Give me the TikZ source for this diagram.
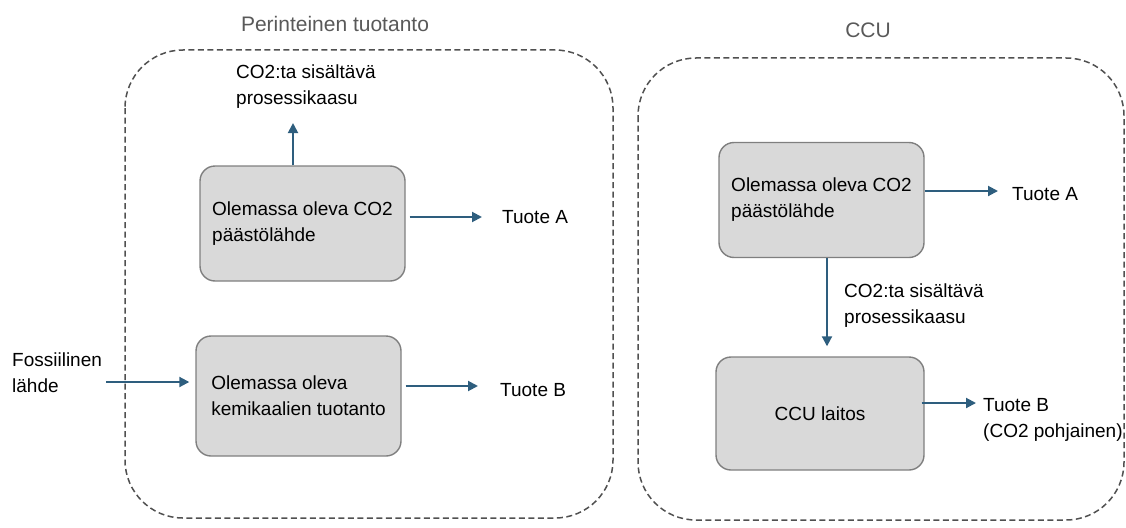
\documentclass[tikz,border=0pt]{standalone}
\usepackage{fontspec}
\setmainfont{Liberation Sans}
\usetikzlibrary{arrows.meta}

\definecolor{flowblue}{HTML}{2E5E7E}
\definecolor{boxfill}{HTML}{D9D9D9}
\definecolor{boxline}{HTML}{7F7F7F}
\definecolor{framegray}{HTML}{595959}

\tikzset{
    txt/.style={inner sep=0pt, align=left, font=\fontsize{19}{26}\selectfont},
    title/.style={inner sep=0pt, text=framegray, font=\fontsize{21}{26}\selectfont},
    unitbox/.style={txt, draw=boxline, fill=boxfill, line width=1.4pt,
        rounded corners=15pt, minimum width=205pt, minimum height=115pt},
    frame/.style={draw=framegray!90!black, line width=1.5pt, dash pattern=on 6pt off 3.5pt,
        rounded corners=58pt},
    flow/.style={draw=flowblue, line width=2pt,
        -{Triangle[length=10pt,width=10pt]}}
}

\begin{document}
\begin{tikzpicture}[x=1pt,y=-1pt]
        \useasboundingbox (0,0) rectangle (1126,527);

        % ~~~~ Perinteinen tuotanto ~~~~ %
        \draw[frame] (125,50) rectangle (613,518);
        \node[title] (titleL) at (335,24) {Perinteinen tuotanto};

        \node[unitbox] (srcL) at (302.5,223.5) {Olemassa oleva CO2\\päästölähde};
        \node[unitbox, minimum height=120pt] (chemL) at (298.5,396) {Olemassa oleva\\kemikaalien tuotanto};

        \node[txt, anchor=west] (gasL) at (236,87) {CO2:ta sisältävä\\prosessikaasu};
        \node[txt, anchor=west] (tuoteAL) at (502,217) {Tuote A};
        \node[txt, anchor=west] (tuoteBL) at (500,390) {Tuote B};
        \node[txt, anchor=west] (fossil) at (12,373) {Fossiilinen\\lähde};

        \draw[flow] ([xshift=-9.5pt]srcL.north) -- ([xshift=-9.5pt,yshift=-14pt]srcL.north |- gasL.south);
        \draw[flow] ([xshift=4pt]srcL.east |- tuoteAL.west) -- ([xshift=-20pt]tuoteAL.west);
        \draw[flow] ([xshift=4pt,yshift=-9pt]fossil.east) -- ([xshift=-6pt,yshift=-9pt]chemL.west |- fossil.east);
        \draw[flow] ([xshift=4pt,yshift=4pt]chemL.east |- tuoteBL.west) -- ([xshift=-22pt,yshift=4pt]tuoteBL.west);

        % ~~~~ CCU ~~~~ %
        \draw[frame] (638,58) rectangle (1124,520);
        \node[title] (titleR) at (868,30) {CCU};

        \node[unitbox] (srcR) at (821.5,200) {Olemassa oleva CO2\\päästölähde};
        \node[unitbox, minimum width=208pt, minimum height=113pt] (ccu) at (820,413.5) {CCU laitos};

        \node[txt, anchor=west] (gasR) at (844,306) {CO2:ta sisältävä\\prosessikaasu};
        \node[txt, anchor=west] (tuoteAR) at (1012,194) {Tuote A};
        \node[txt, anchor=west] (tuoteBR) at (983,420) {Tuote B\\(CO2 pohjainen)};

        \draw[flow] ([yshift=3pt]srcR.east |- tuoteAR.west) -- ([xshift=-14pt,yshift=3pt]tuoteAR.west);
        \draw[flow] (srcR.south -| 827,0) -- ([yshift=10pt]ccu.north -| 827,0);
        \draw[flow] ([xshift=-3pt,yshift=17pt]ccu.east |- tuoteBR.west) -- ([xshift=-7pt,yshift=17pt]tuoteBR.west);
    \end{tikzpicture}
\end{document}
